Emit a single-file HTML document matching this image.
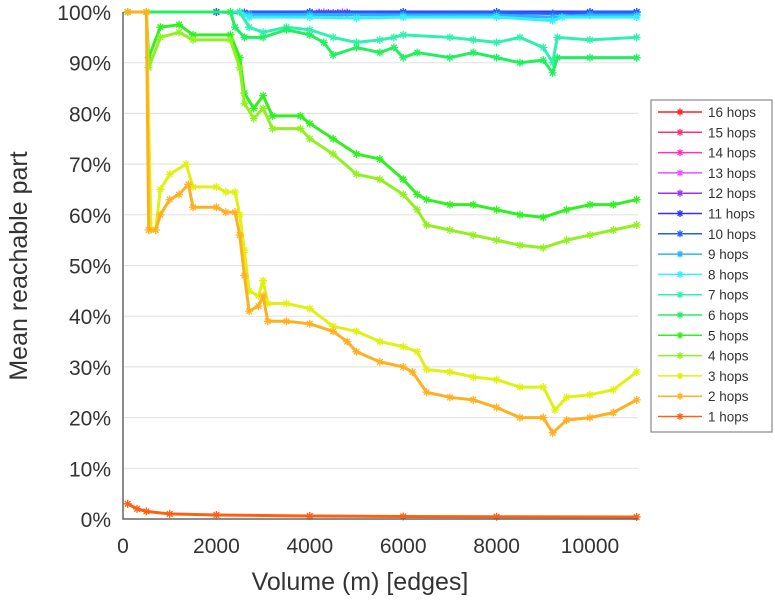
<!DOCTYPE html>
<html><head><meta charset="utf-8">
<style>
body{margin:0;background:#fff;width:775px;height:600px;overflow:hidden;font-family:"Liberation Sans",sans-serif;}
svg text{font-family:"Liberation Sans",sans-serif;fill:#333;}
</style></head>
<body>
<svg id="chart" width="775" height="600" xmlns="http://www.w3.org/2000/svg">
<g id="grid"></g>
<g id="series"></g>
<g id="axes"></g>
<text x="0" y="0" transform="translate(27,266) rotate(-90)" text-anchor="middle" font-size="25">Mean reachable part</text>
<text x="360" y="590" text-anchor="middle" font-size="25">Volume (m) [edges]</text>
<g id="legend"></g>
</svg>
<script>
const xTicks=[0,2000,4000,6000,8000,10000];
const yTicks=[0,10,20,30,40,50,60,70,80,90,100];
const seriesNames=["16 hops","15 hops","14 hops","13 hops","12 hops","11 hops","10 hops","9 hops","8 hops","7 hops","6 hops","5 hops","4 hops","3 hops","2 hops","1 hops"];
const seriesColors=["#ff2020","#ff3070","#ff30c0","#e850ff","#a030ff","#3030ff","#2060ff","#30b0ff","#30f0ff","#30f0b0","#20f060","#30f020","#90f020","#e0f010","#ffb020","#ff6010"];
const x16=[],y16=[];
const x15=[],y15=[];
const x14=[4300,4500,4700],y14=[99.9,99.8,99.9];
const x13=[4200,4400,4600,4800],y13=[99.9,99.8,99.8,99.9];
const x12=[4200,4400,4600,4800],y12=[99.8,99.7,99.7,99.8];
const x11=[100,2000,4000,6000,8000,10000,11000],y11=[100,100,100,100,100,100,100];
const x10=[100,2000,2600,4000,6000,8000,9200,10000,11000],y10=[100,100,99.9,99.9,99.8,99.9,99.7,99.9,99.9];
const x9=[100,2500,2700,4000,6000,8000,9200,10000,11000],y9=[100,100,99.5,99.5,99.4,99.4,99,99.4,99.4];
const x8=[100,2500,2700,4000,5000,6000,8000,9200,9400,11000],y8=[100,100,99,99,98.8,99,99,98.3,99,99];
const x7=[100,2500,2700,3000,3500,4000,4500,5000,5500,5800,6000,7000,7500,8000,8500,9000,9200,9300,10000,11000],
      y7=[100,100,97,96,97,96.5,95,94,94.5,95,95.5,95,94.5,94,95,93,90,95,94.5,95];
const x6=[100,2300,2400,2600,3000,3500,4000,4300,4500,5000,5500,5800,6000,6300,7000,7500,8000,8500,9000,9200,9300,10000,11000],
      y6=[100,100,97,95,95,96.5,95.5,94,91.5,93,92,93,91,92,91,92,91,90,90.5,88,91,91,91];
const x5=[100,500,550,800,1200,1500,2300,2500,2600,2800,3000,3200,3800,4000,4500,5000,5500,6000,6300,6500,7000,7500,8000,8500,9000,9500,10000,10500,11000],
      y5=[100,100,91,97,97.5,95.5,95.5,91,84,81,83.5,79.5,79.5,78,75,72,71,67,64,63,62,62,61,60,59.5,61,62,62,63];
const x4=[100,500,550,800,1200,1500,2300,2500,2600,2800,3000,3200,3800,4000,4500,5000,5500,6000,6300,6500,7000,7500,8000,8500,9000,9500,10000,10500,11000],
      y4=[100,100,89,95,96,94.5,94.5,89,82,79,81,77,77,75,72,68,67,64,61,58,57,56,55,54,53.5,55,56,57,58];
const x3=[100,500,600,700,800,1000,1350,1500,2000,2200,2400,2500,2600,2700,2900,3000,3100,3500,4000,4500,5000,5500,6000,6300,6500,7000,7500,8000,8500,9000,9250,9500,10000,10500,11000],
      y3=[100,100,57,57,65,68,70,65.5,65.5,64.5,64.5,60,53,45,44,47,42.5,42.5,41.5,38,37,35,34,33,29.5,29,28,27.5,26,26,21.5,24,24.5,25.5,29];
const x2=[100,500,550,700,800,1000,1200,1400,1500,2000,2200,2400,2500,2600,2700,2900,3000,3100,3500,4000,4500,4800,5000,5500,6000,6200,6500,7000,7500,8000,8500,9000,9200,9500,10000,10500,11000],
      y2=[100,100,57,57,60,63,64,66,61.5,61.5,60.5,60.5,56,48,41,42,44,39,39,38.5,37,35,33,31,30,29,25,24,23.5,22,20,20,17,19.5,20,21,23.5];
const x1=[100,300,500,1000,2000,4000,6000,8000,11000],y1=[3,2,1.5,1,0.8,0.6,0.5,0.45,0.4];
const seriesX=[x16,x15,x14,x13,x12,x11,x10,x9,x8,x7,x6,x5,x4,x3,x2,x1];
const seriesY=[y16,y15,y14,y13,y12,y11,y10,y9,y8,y7,y6,y5,y4,y3,y2,y1];

const NS="http://www.w3.org/2000/svg";
const L=123,R=638,T=12,B=519;
const sx=v=>L+(v/10000)*(590-L);
const sy=v=>B-(v/100)*(B-T);
function mk(tag,attrs,parent){const e=document.createElementNS(NS,tag);for(const k in attrs)e.setAttribute(k,attrs[k]);parent.appendChild(e);return e;}
const grid=document.getElementById('grid'),axes=document.getElementById('axes'),sg=document.getElementById('series'),lg=document.getElementById('legend');
yTicks.forEach(t=>{
  const y=sy(t);
  if(t>0){const g=mk('line',{x1:L,x2:R,y1:y,y2:y,stroke:'#e4e4e4','stroke-width':1.2},grid);
  
  }
  const tx=mk('text',{x:L-12,y:y+8,'text-anchor':'end','font-size':21},axes);tx.textContent=t+'%';
  
  
});
xTicks.forEach(t=>{
  const tx=mk('text',{x:sx(t),y:553,'text-anchor':'middle','font-size':21},axes);tx.textContent=t;
  
  
});
const ax=mk('path',{d:`M${L},${T} V${B} H${R}`,fill:'none',stroke:'#666','stroke-width':1.5},axes);


function star(x,y,r,c,p){
  let d='';for(let i=0;i<4;i++){const a=i*Math.PI/4;d+=`M${x-r*Math.cos(a)},${y-r*Math.sin(a)}L${x+r*Math.cos(a)},${y+r*Math.sin(a)}`;}
  return mk('path',{d:d,stroke:c,'stroke-width':1.3,fill:'none'},p);
}
for(let s=0;s<seriesNames.length;s++){
  const xs=seriesX[s],ys=seriesY[s];if(!xs.length)continue;
  const g=mk('g',{},sg);
  
  
  const pts=xs.map((v,i)=>sx(v)+','+sy(ys[i])).join(' ');
  mk('polyline',{points:pts,fill:'none',stroke:seriesColors[s],'stroke-width':3,'stroke-linejoin':'round'},g);
  xs.forEach((v,i)=>{const m=star(sx(v),sy(ys[i]),4,seriesColors[s],g);
    
    });
}
const box=mk('rect',{x:651,y:100,width:121,height:332,fill:'#fff',stroke:'#888','stroke-width':1.2},lg);


seriesNames.forEach((n,i)=>{
  const y=112+i*20.3;
  const g=mk('g',{},lg);
  
  
  mk('line',{x1:658,x2:702,y1:y,y2:y,stroke:seriesColors[i],'stroke-width':1.5},g);
  star(680,y,3.5,seriesColors[i],g);
  const t=mk('text',{x:708,y:y+5,'font-size':13.5},g);t.textContent=n;
});
</script>
</body></html>
